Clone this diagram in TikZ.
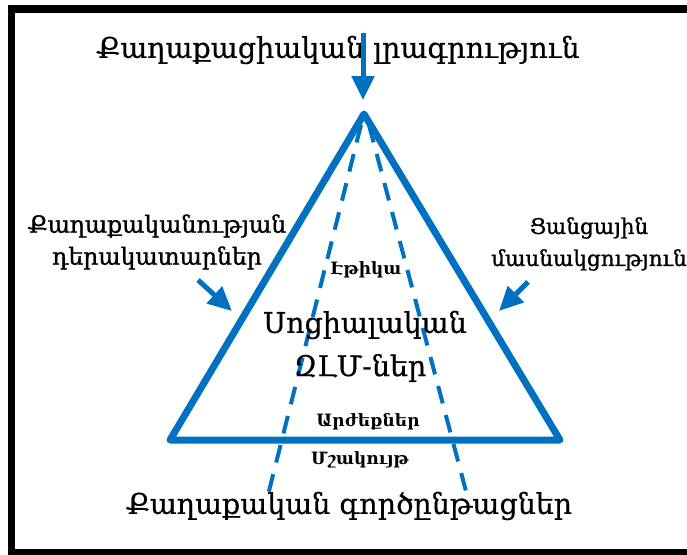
\documentclass[tikz,border=0pt]{standalone}
\usepackage{fontspec}
\setmainfont{DejaVu Serif}
\newfontfamily\heavyfont{DejaVu Serif}[FakeBold=1.2]
\newfontfamily\medfont{DejaVu Serif}[FakeBold=0.6]
\usetikzlibrary{positioning,arrows.meta,calc}
\definecolor{myblue}{RGB}{0,112,192}
\tikzset{
    big/.style={
        font=\medfont\fontsize{28.5}{32}\selectfont,
        inner sep=0pt
    },
    sidel/.style={
        font=\heavyfont\fontsize{23.5}{32}\selectfont,
        align=center,
        inner sep=0pt
    },
    sider/.style={
        font=\heavyfont\fontsize{21.5}{32}\selectfont,
        align=center,
        inner sep=0pt
    },
    small/.style={
        font=\fontsize{17}{19}\selectfont\bfseries,
        inner sep=0pt
    },
    tri/.style={draw=myblue, line width=7pt, line join=round},
    arr/.style={-{Triangle[width=22pt,length=24pt]}, line width=5pt, myblue},
    dashln/.style={myblue, line width=4pt, dash pattern=on 18pt off 12pt}
}

\begin{document}
\begin{tikzpicture}[x=1pt,y=-1pt]
\useasboundingbox (0,0) rectangle (687,554);
\clip (0,0) rectangle (687,554);
\draw[line width=7.5pt] (11.5,9) rectangle (700,552.5);

% triangle
\coordinate (apex) at (364,114);
\coordinate (bl) at (170,440);
\coordinate (br) at (560,440);
\draw[tri] (apex) -- (bl) -- (br) -- cycle;

% dashed inner lines
\coordinate (dl0) at (361,125);
\coordinate (dl1) at (268,495);
\coordinate (dr0) at (369,125);
\coordinate (dr1) at (467,495);
\draw[dashln] (dl0) -- (dl1);
\draw[dashln] (dr0) -- (dr1);

% labels
\node[big] (civic) at (338,50) {Քաղաքացիական լրագրություն};
\node[sidel] (actors) at (157,242) {Քաղաքականության\\դերակատարներ};
\node[sider] (network) at (589,244) {Ցանցային\\մասնակցություն};
\node[small] (ethics) at (366,270) {Էթիկա};
\node[big] (social) at (365,325) {Սոցիալական};
\node[big] (media) at (360,368) {ԶԼՄ-ներ};
\node[small] (values) at (368,422) {Արժեքներ};
\node[small] (culture) at (360,460) {Մշակույթ};
\node[big] (process) at (349,506) {Քաղաքական գործընթացներ};

% arrows
\coordinate (t0) at (363,33);
\coordinate (t1) at (363,100);
\coordinate (l0) at (198,280);
\coordinate (l1) at (232,311);
\coordinate (r0) at (528,282);
\coordinate (r1) at (499,311);
\draw[arr] (t0) -- (t1);
\draw[arr] (l0) -- (l1);
\draw[arr] (r0) -- (r1);
\end{tikzpicture}
\end{document}
